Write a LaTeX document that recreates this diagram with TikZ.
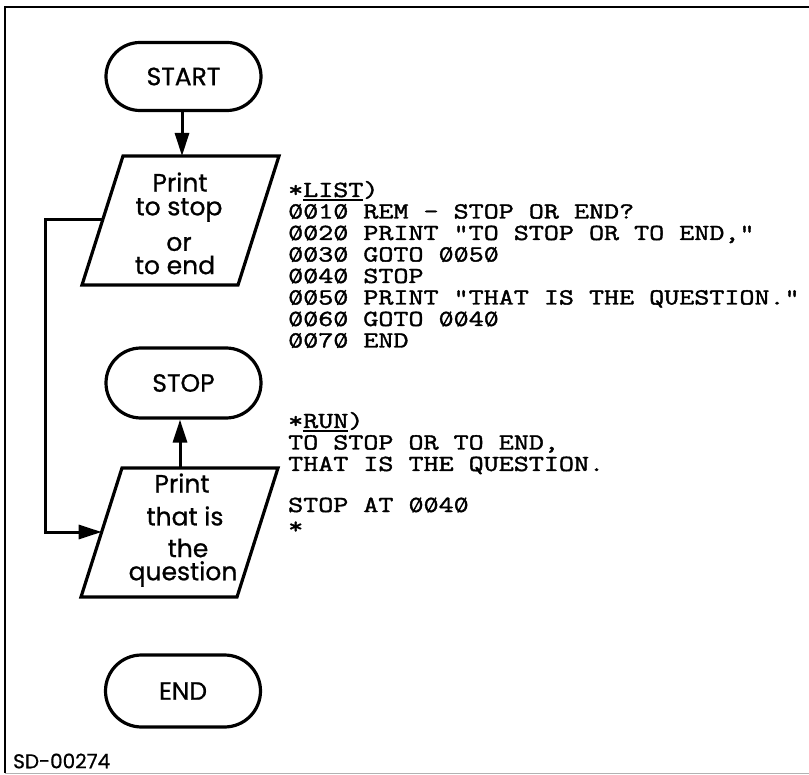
\documentclass[tikz,border=0pt]{standalone}
\usepackage{graphicx}
\usepackage{fontspec}
\setmainfont{Poppins}
\newfontfamily\letterfont{Poppins}[FakeBold=0.8]
\newfontfamily\codefont{Latin Modern Mono}[FakeStretch=1.27,FakeBold=1.7]
\usetikzlibrary{arrows.meta,shapes.misc}
% typewriter zero with a slash through it
\newcommand\zs{\makebox[0pt][l]{\hspace{3.5pt}\raisebox{-0.8pt}{\rotatebox{61}{\rule{17pt}{1.4pt}}}}0}
% typed underline
\newcommand\ulinetxt[1]{\setbox0\hbox{#1}\rlap{\rule[-4pt]{\wd0}{1.5pt}}\box0}
\begin{document}
\begin{tikzpicture}[x=1pt,y=-1pt,
  terminal/.style={draw, line width=3.2pt, rounded rectangle, minimum width=155pt,
    minimum height=68pt, inner sep=0pt, font=\letterfont\fontsize{25}{25}\selectfont},
  lbl/.style={font=\letterfont\fontsize{25}{28}\selectfont, inner sep=0pt},
  code/.style={font=\codefont\fontsize{23}{23}\selectfont, anchor=base west, inner sep=0pt},
  flow/.style={line width=3pt, -{Triangle[length=23pt,width=14pt]}},
  io/.style={line width=3.2pt, line join=miter}]
\useasboundingbox (0,0) rectangle (809,775);
\fill[white] (0,0) rectangle (809,775);

% frame
\draw[line width=2.8pt] (809,7) -- (5,7) -- (5,773);
\draw[gray!60, line width=0.8pt] (5,773) -- (809,773);

% terminals
\node[terminal] (start) at (183.5,76.5) {START};
\node[terminal, minimum height=70pt] (stop) at (183.5,383) {STOP};
\node[terminal, minimum height=72pt] (end) at (183,691) {END};

% first output box
\coordinate (p1tl) at (123,156);
\coordinate (p1tr) at (279,156);
\coordinate (p1br) at (238,285);
\coordinate (p1bl) at (82,285);
\draw[io] (p1tl) -- (p1tr) -- (p1br) -- (p1bl) -- cycle;
\node[lbl] (p1a) at (180,182) {Print};
\node[lbl] (p1b) at (179,210) {to stop};
\node[lbl] (p1c) at (179,244) {or};
\node[lbl] (p1d) at (175,265) {to end};

% second output box
\coordinate (p2tl) at (122,468);
\coordinate (p2tr) at (278,468);
\coordinate (p2br) at (237,597);
\coordinate (p2bl) at (81,597);
\draw[io] (p2tl) -- (p2tr) -- (p2br) -- (p2bl) -- cycle;
\node[lbl] (p2a) at (182,483) {Print};
\node[lbl] (p2b) at (185,516) {that is};
\node[lbl] (p2c) at (188,548) {the};
\node[lbl] (p2d) at (183,574) {question};

% connectors
\coordinate (p1top) at (182,156);
\coordinate (p2top) at (180,468);
\coordinate (p1left) at (102.7,220);
\coordinate (p2left) at (101.7,532);
\draw[flow] (start.south -| p1top) -- (p1top);
\draw[flow] (p2top) -- (stop.south -| p2top);
\draw[flow] (p1left) -- ++(-57.7,0) |- (p2left);

% listing
\node[code] (c0) at (288,197) {*\ulinetxt{LIST})};
\node[code] (c1) at (288,218.5) {\zs\zs1\zs{} REM - STOP OR END?};
\node[code] (c2) at (288,240) {\zs\zs2\zs{} PRINT "TO STOP OR TO END,"};
\node[code] (c3) at (288,261.5) {\zs\zs3\zs{} GOTO \zs\zs5\zs};
\node[code] (c4) at (288,283) {\zs\zs4\zs{} STOP};
\node[code] (c5) at (288,304.5) {\zs\zs5\zs{} PRINT "THAT IS THE QUESTION."};
\node[code] (c6) at (288,326) {\zs\zs6\zs{} GOTO \zs\zs4\zs};
\node[code] (c7) at (288,347.5) {\zs\zs7\zs{} END};

% run output
\node[code] (r0) at (288,428) {*\ulinetxt{RUN})};
\node[code] (r1) at (288,449.5) {TO STOP OR TO END,};
\node[code] (r2) at (288,471) {THAT IS THE QUESTION.};
\node[code] (r3) at (288,512) {STOP AT \zs\zs4\zs};
\node[code] (r4) at (288,533.5) {*};

% drawing number
\node[anchor=west, inner sep=0pt, font=\letterfont\fontsize{20}{20}\selectfont] (sd) at (13,761) {SD-00274};
\end{tikzpicture}
\end{document}
